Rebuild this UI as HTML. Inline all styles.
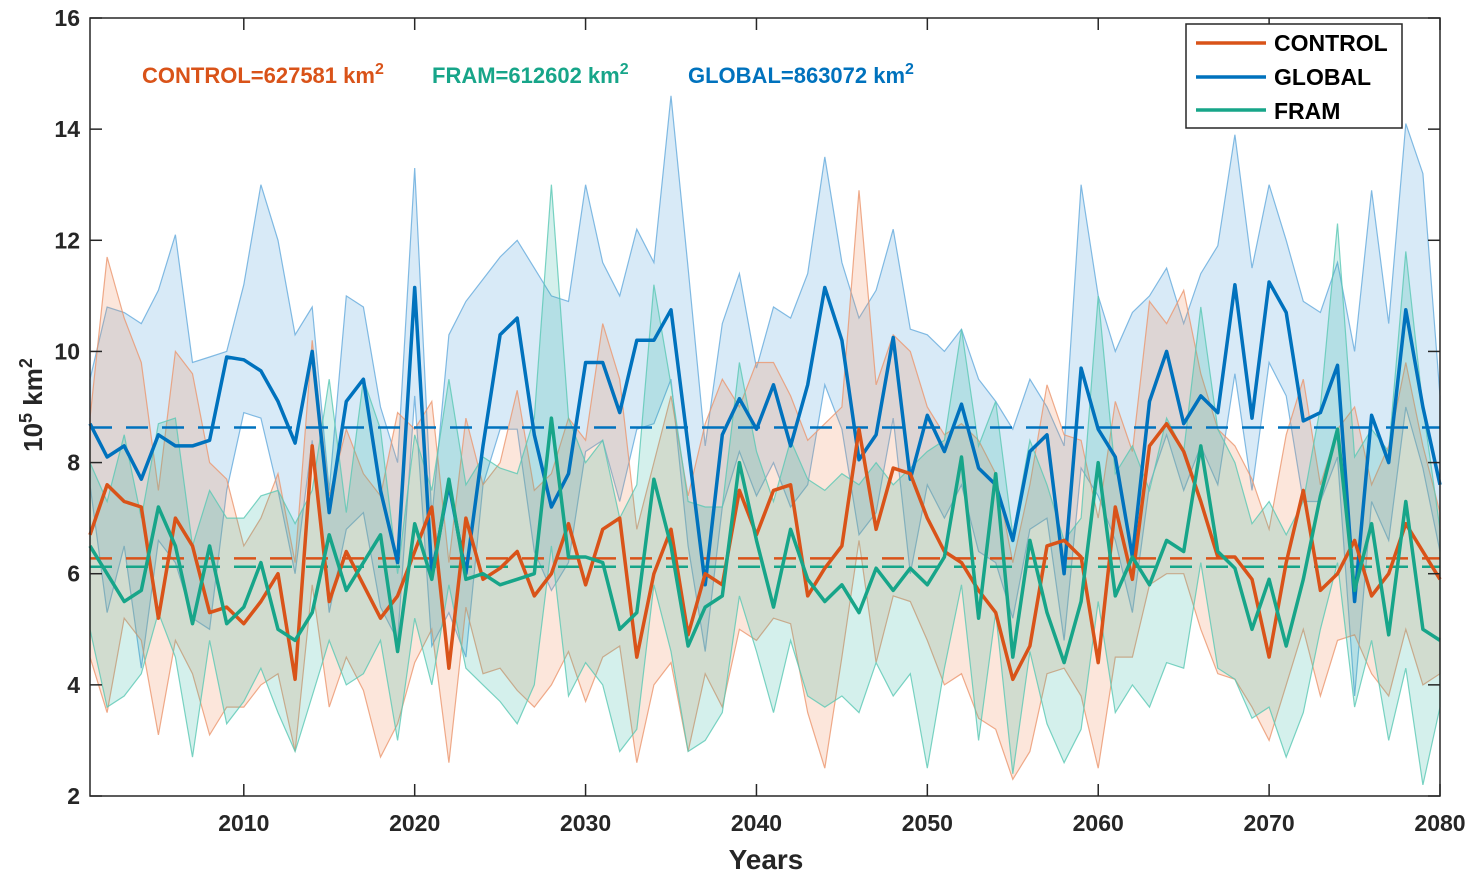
<!DOCTYPE html>
<html><head><meta charset="utf-8"><style>
html,body{margin:0;padding:0;background:#fff;}
svg{display:block;font-family:"Liberation Sans",Arial,sans-serif;font-weight:bold;}
</style></head><body>
<svg id="chart" width="1477" height="879" viewBox="0 0 1477 879"></svg>
<script>
const years = []; for (let y = 2001; y <= 2080; y++) years.push(y);
const xTicks = [2010, 2020, 2030, 2040, 2050, 2060, 2070, 2080];
const yTicks = [2, 4, 6, 8, 10, 12, 14, 16];
const globalMean = [8.7,8.1,8.3,7.7,8.5,8.3,8.3,8.4,9.9,9.85,9.65,9.1,8.35,10.0,7.1,9.1,9.5,7.5,6.2,11.15,6.0,7.6,6.0,8.3,10.3,10.6,8.5,7.2,7.8,9.8,9.8,8.9,10.2,10.2,10.75,8.3,5.8,8.5,9.15,8.6,9.4,8.3,9.4,11.15,10.2,8.05,8.5,10.25,7.7,8.85,8.2,9.05,7.9,7.6,6.6,8.2,8.5,6.0,9.7,8.6,8.1,6.3,9.1,10.0,8.7,9.2,8.9,11.2,8.8,11.25,10.7,8.75,8.9,9.75,5.5,8.85,8.0,10.75,9.0,7.6];
const globalUpper = [9.5,10.8,10.7,10.5,11.1,12.1,9.8,9.9,10.0,11.2,13.0,12.0,10.3,10.8,7.5,11.0,10.8,9.0,8.0,13.3,7.0,10.3,10.9,11.3,11.7,12.0,11.5,11.0,10.9,13.0,11.6,11.0,12.2,11.6,14.6,11.5,8.3,10.5,11.4,9.7,10.8,10.6,11.4,13.5,11.6,10.6,11.1,12.2,10.4,10.3,10.0,10.4,9.5,9.1,8.6,9.5,9.0,8.3,13.0,11.0,10.0,10.7,11.0,11.5,10.5,11.4,11.9,13.9,11.5,13.0,12.0,10.9,10.7,11.6,10.0,12.9,10.5,14.1,13.2,9.2];
const globalLower = [7.6,5.3,6.5,4.3,6.6,6.2,5.2,5.0,7.5,8.9,8.8,7.5,6.0,8.4,5.3,6.8,7.1,5.4,4.8,9.2,4.7,5.3,4.5,7.6,8.6,8.6,6.4,5.7,6.2,8.2,8.4,7.3,8.6,8.7,9.5,6.5,4.6,7.2,8.2,7.4,8.0,7.2,7.6,9.4,8.6,6.7,7.1,8.8,6.0,7.6,7.0,7.6,6.4,6.2,5.2,6.8,7.0,4.8,7.9,7.4,6.6,5.3,7.6,8.5,7.5,8.3,7.6,9.6,7.5,9.8,9.2,7.3,7.3,8.1,3.8,7.3,6.6,9.0,7.9,6.4];
const controlMean = [6.7,7.6,7.3,7.2,5.2,7.0,6.5,5.3,5.4,5.1,5.5,6.0,4.1,8.3,5.5,6.4,5.8,5.2,5.6,6.4,7.2,4.3,7.0,5.9,6.1,6.4,5.6,6.0,6.9,5.8,6.8,7.0,4.5,6.0,6.8,4.9,6.0,5.8,7.5,6.7,7.5,7.6,5.6,6.1,6.5,8.6,6.8,7.9,7.8,7.0,6.4,6.2,5.7,5.3,4.1,4.7,6.5,6.6,6.3,4.4,7.2,5.9,8.3,8.7,8.2,7.3,6.3,6.3,5.9,4.5,6.2,7.5,5.7,6.0,6.6,5.6,6.0,6.9,6.4,5.9];
const controlUpper = [8.8,11.7,10.6,9.8,7.5,10.0,9.6,8.0,7.7,6.5,7.0,7.8,6.2,10.2,7.4,8.6,7.8,7.4,8.9,8.6,9.1,6.2,8.8,7.6,8.0,9.3,7.5,7.8,8.8,8.4,10.5,9.5,6.8,8.0,9.2,7.4,8.7,9.5,9.0,9.8,9.8,9.2,8.4,8.7,9.0,12.9,9.4,10.3,10.0,9.0,8.5,8.7,8.4,7.8,6.2,7.6,9.4,8.5,8.4,7.0,9.1,8.2,10.9,10.5,11.1,9.6,8.6,8.3,7.7,6.8,8.5,9.5,7.6,8.6,9.0,7.6,8.3,9.8,8.3,7.1];
const controlLower = [4.5,3.5,5.2,4.8,3.1,4.8,4.2,3.1,3.6,3.6,4.0,4.2,2.8,5.8,3.6,4.5,3.9,2.7,3.3,4.4,5.0,2.6,5.4,4.2,4.3,3.9,3.6,4.0,4.6,3.7,4.5,4.7,2.6,4.0,4.4,2.8,4.2,3.6,5.0,4.8,5.2,5.1,3.5,2.5,4.5,6.6,4.4,5.6,5.5,4.8,4.0,4.2,3.4,3.2,2.3,2.8,4.2,4.3,3.8,2.5,4.5,4.5,5.8,6.0,6.0,5.0,4.2,4.1,3.6,3.0,4.0,5.0,3.8,4.8,4.9,4.2,3.8,5.0,4.0,4.2];
const framMean = [6.5,6.0,5.5,5.7,7.2,6.5,5.1,6.5,5.1,5.4,6.2,5.0,4.8,5.3,6.7,5.7,6.2,6.7,4.6,6.9,5.9,7.7,5.9,6.0,5.8,5.9,6.0,8.8,6.3,6.3,6.2,5.0,5.3,7.7,6.5,4.7,5.4,5.6,8.0,6.6,5.4,6.8,5.9,5.5,5.8,5.3,6.1,5.7,6.1,5.8,6.3,8.1,5.2,7.8,4.5,6.6,5.3,4.4,5.5,8.0,5.6,6.3,5.8,6.6,6.4,8.3,6.4,6.1,5.0,5.9,4.7,5.9,7.4,8.6,5.7,6.9,4.9,7.3,5.0,4.8];
const framUpper = [8.0,7.3,8.5,7.0,8.7,8.8,6.5,7.5,7.0,7.0,7.4,7.5,6.9,7.5,9.5,7.1,9.5,8.6,6.0,8.5,7.5,9.5,7.6,8.1,7.9,7.8,8.8,13.0,8.8,8.0,8.4,7.0,7.6,11.2,9.4,7.3,7.2,7.2,9.8,8.2,7.3,8.4,7.7,7.5,7.8,7.6,8.0,7.6,7.9,8.2,8.4,10.4,8.3,9.1,6.7,8.4,7.6,6.6,7.0,11.0,7.8,8.3,7.5,8.8,8.2,10.8,8.6,8.0,6.9,7.3,6.7,7.3,9.0,12.3,8.1,8.6,8.2,11.8,9.0,6.8];
const framLower = [5.0,3.6,3.8,4.2,5.3,4.5,2.7,4.8,3.3,3.7,4.3,3.5,2.8,3.8,4.8,4.0,4.2,4.8,3.0,5.2,4.0,5.8,4.3,4.0,3.7,3.3,4.0,6.5,3.8,4.4,4.0,2.8,3.2,5.8,4.6,2.8,3.0,3.5,5.6,4.6,3.5,4.8,3.8,3.6,3.8,3.5,4.4,3.8,4.2,2.5,4.3,5.8,3.0,5.3,2.4,4.6,3.3,2.6,3.2,5.5,3.5,4.0,3.6,4.4,4.3,6.2,4.3,4.1,3.4,3.6,2.7,3.5,5.0,6.2,3.6,4.8,3.0,4.3,2.2,3.6];
const overallMeans = [6.27581, 6.12602, 8.63072];

const NS = "http://www.w3.org/2000/svg";
const svg = document.getElementById("chart");
const L = 90, R = 1440, T = 18, B = 796;
const xMin = 2001, xMax = 2080, yMin = 2, yMax = 16;
function xs(v){ return L + (v - xMin) / (xMax - xMin) * (R - L); }
function ys(v){ return B - (v - yMin) / (yMax - yMin) * (B - T); }
function mk(tag, attrs, parent){
  const e = document.createElementNS(NS, tag);
  for (const k in attrs) e.setAttribute(k, attrs[k]);
  (parent || svg).appendChild(e);
  return e;
}
const COL = {control:"#D95319", global:"#0072BD", fram:"#17A589"};
const FILL = {control:"rgba(240,140,90,0.22)", global:"rgba(60,150,215,0.2)", fram:"rgba(40,180,160,0.2)"};
const EDGE = {control:"rgba(235,150,110,0.8)", global:"rgba(100,170,220,0.8)", fram:"rgba(90,200,180,0.8)"};

const series = [
  {key:"global", m:globalMean, u:globalUpper, l:globalLower},
  {key:"control", m:controlMean, u:controlUpper, l:controlLower},
  {key:"fram", m:framMean, u:framUpper, l:framLower}
];
const plot = mk("g", {});



series.forEach(s => {
  let d = "";
  s.u.forEach((v,i) => { d += (i ? "L" : "M") + xs(years[i]).toFixed(1) + "," + ys(v).toFixed(1); });
  for (let i = s.l.length - 1; i >= 0; i--) d += "L" + xs(years[i]).toFixed(1) + "," + ys(s.l[i]).toFixed(1);
  d += "Z";
  const band = mk("path", {d:d, fill:FILL[s.key], stroke:EDGE[s.key], "stroke-width":1.2}, plot);
  
  
});
const dashKeys = ["control", "fram", "global"];
overallMeans.forEach((v,i) => {
  const ln = mk("line", {x1:L, x2:R, y1:ys(v), y2:ys(v), stroke:COL[dashKeys[i]], "stroke-width":2.5, "stroke-dasharray":"22,14"}, plot);
  
  
});
series.forEach(s => {
  const pts = s.m.map((v,i) => xs(years[i]).toFixed(1) + "," + ys(v).toFixed(1)).join(" ");
  const pl = mk("polyline", {points:pts, fill:"none", stroke:COL[s.key], "stroke-width":3.5, "stroke-linejoin":"round"}, plot);
  
  
});

const box = mk("rect", {x:L, y:T, width:R-L, height:B-T, fill:"none", stroke:"#262626", "stroke-width":1.5});


xTicks.forEach(t => {
  const x = xs(t);
  mk("line", {x1:x, x2:x, y1:B, y2:B-12, stroke:"#262626", "stroke-width":1.5});
  mk("line", {x1:x, x2:x, y1:T, y2:T+12, stroke:"#262626", "stroke-width":1.5});
  const tx = mk("text", {x:x, y:B+35, "text-anchor":"middle", "font-size":23, fill:"#262626"});
  tx.textContent = t;
  
  
});
yTicks.forEach(t => {
  const y = ys(t);
  mk("line", {x1:L, x2:L+12, y1:y, y2:y, stroke:"#262626", "stroke-width":1.5});
  mk("line", {x1:R, x2:R-12, y1:y, y2:y, stroke:"#262626", "stroke-width":1.5});
  const tx = mk("text", {x:L-10, y:y+8, "text-anchor":"end", "font-size":23, fill:"#262626"});
  tx.textContent = t;
  
  
});
</script>
<svg width="1477" height="879" style="position:absolute;left:0;top:0;font-family:'Liberation Sans',Arial,sans-serif;font-weight:bold;">
  <text x="766" y="869" text-anchor="middle" font-size="28" fill="#262626">Years</text>
  <text transform="translate(42,405) rotate(-90)" text-anchor="middle" font-size="26" fill="#262626">10<tspan dy="-10" font-size="18">5</tspan><tspan dy="10"> km</tspan><tspan dy="-10" font-size="18">2</tspan></text>
  <text x="142" y="83" font-size="22" fill="#D95319">CONTROL=627581 km<tspan dy="-9" font-size="16">2</tspan></text>
  <text x="432" y="83" font-size="22" fill="#17A589">FRAM=612602 km<tspan dy="-9" font-size="16">2</tspan></text>
  <text x="688" y="83" font-size="22" fill="#0072BD">GLOBAL=863072 km<tspan dy="-9" font-size="16">2</tspan></text>
  <g>
    <rect x="1186" y="24" width="216" height="104" fill="#fff" stroke="#262626" stroke-width="1.5"/>
    <g>
      <line x1="1196" x2="1266" y1="43" y2="43" stroke="#D95319" stroke-width="3.5"/>
      <text x="1274" y="51" font-size="23" fill="#000">CONTROL</text>
    </g>
    <g>
      <line x1="1196" x2="1266" y1="77" y2="77" stroke="#0072BD" stroke-width="3.5"/>
      <text x="1274" y="85" font-size="23" fill="#000">GLOBAL</text>
    </g>
    <g>
      <line x1="1196" x2="1266" y1="110" y2="110" stroke="#17A589" stroke-width="3.5"/>
      <text x="1274" y="119" font-size="23" fill="#000">FRAM</text>
    </g>
  </g>
</svg>
</body></html>
